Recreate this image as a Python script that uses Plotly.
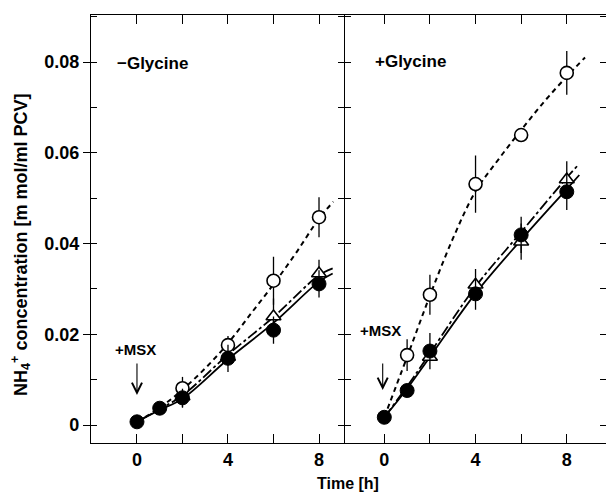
import plotly.graph_objects as go

# ---------------- data ----------------
# -Glycine panel
L_filled_t = [0, 1, 2, 4, 6, 8]
L_filled_y = [0.0007, 0.0037, 0.0060, 0.0147, 0.0209, 0.0311]
L_filled_e = [0, 0, 0.002, 0.003, 0.003, 0.003]
L_open_t = [2, 4, 6, 8]
L_open_y = [0.0081, 0.0176, 0.0318, 0.0458]
L_open_e = [0.0025, 0.002, 0.0053, 0.0044]
L_tri_t = [2, 4, 6, 8]
L_tri_y = [0.0063, 0.0150, 0.0239, 0.0334]
L_tri_e = [0.0025, 0, 0.004, 0.003]
# fitted curves
L_open_ct = [0, 1, 2, 3, 4, 5, 6, 7, 8, 8.63]
L_open_cy = [0.0007, 0.0038, 0.0078, 0.0125, 0.0180, 0.0245, 0.0310, 0.0380, 0.0455, 0.0492]
L_tri_ct = [0, 1, 2, 4, 6, 8, 8.6]
L_tri_cy = [0.0007, 0.0035, 0.0065, 0.0155, 0.0238, 0.0330, 0.0345]
L_fil_ct = [0, 1, 2, 4, 6, 8, 8.6]
L_fil_cy = [0.0007, 0.0033, 0.0058, 0.0145, 0.0225, 0.0316, 0.0334]

# +Glycine panel
R_filled_t = [0, 1, 2, 4, 6, 8]
R_filled_y = [0.0017, 0.0076, 0.0163, 0.0289, 0.0419, 0.0514]
R_filled_e = [0, 0, 0.004, 0.0035, 0.004, 0.004]
R_open_t = [1, 2, 4, 6, 8]
R_open_y = [0.0154, 0.0287, 0.0531, 0.0639, 0.0776]
R_open_e = [0.0035, 0.0044, 0.0063, 0, 0.0048]
R_tri_t = [2, 4, 6, 8]
R_tri_y = [0.0150, 0.0309, 0.0404, 0.0541]
R_tri_e = [0, 0.0035, 0.004, 0.004]
R_open_ct = [0, 1, 2, 3, 4, 5, 6, 7, 8, 8.8]
R_open_cy = [0.0017, 0.0150, 0.0285, 0.0410, 0.0515, 0.0585, 0.0650, 0.0712, 0.0768, 0.0810]
R_tri_ct = [0, 1, 2, 4, 6, 8, 8.5]
R_tri_cy = [0.0017, 0.0085, 0.0158, 0.0305, 0.0425, 0.0545, 0.0573]
R_fil_ct = [0, 1, 2, 4, 6, 8, 8.55]
R_fil_cy = [0.0017, 0.0080, 0.0150, 0.0290, 0.0408, 0.0520, 0.0551]

x_tickvals = [0, 2, 4, 6, 8]
x_ticktext = ["0", " ", "4", " ", "8"]
y_tickvals = [0, 0.02, 0.04, 0.06, 0.08]
y_ticktext = ["0", "0.02", "0.04", "0.06", "0.08"]

# ---------------- figure ----------------
FONT = "Liberation Sans, Arial, Helvetica, sans-serif"
BLACK = "black"
fig = go.Figure()


def add_panel(xa, ya, ct, cy, fct, fcy, tct, tcy,
              tt, ty, te, opt, opy, ope, ft, fy, fe):
    # fitted curves
    fig.add_trace(go.Scatter(x=ct, y=cy, mode="lines", xaxis=xa, yaxis=ya,
                             line=dict(color=BLACK, width=2, dash="5px,4px", shape="spline"),
                             showlegend=False, hoverinfo="skip"))
    fig.add_trace(go.Scatter(x=tct, y=tcy, mode="lines", xaxis=xa, yaxis=ya,
                             line=dict(color=BLACK, width=1.8, dash="11px,3px,3px,3px", shape="spline"),
                             showlegend=False, hoverinfo="skip"))
    fig.add_trace(go.Scatter(x=fct, y=fcy, mode="lines", xaxis=xa, yaxis=ya,
                             line=dict(color=BLACK, width=1.8, shape="spline"),
                             showlegend=False, hoverinfo="skip"))
    # markers
    fig.add_trace(go.Scatter(x=tt, y=ty, mode="markers", xaxis=xa, yaxis=ya,
                             marker=dict(symbol="triangle-up", size=13, color="white",
                                         line=dict(color=BLACK, width=1.6)),
                             error_y=dict(type="data", array=te, color=BLACK, thickness=1.3, width=0),
                             showlegend=False))
    fig.add_trace(go.Scatter(x=opt, y=opy, mode="markers", xaxis=xa, yaxis=ya,
                             marker=dict(symbol="circle", size=13, color="white",
                                         line=dict(color=BLACK, width=1.6)),
                             error_y=dict(type="data", array=ope, color=BLACK, thickness=1.3, width=0),
                             showlegend=False))
    fig.add_trace(go.Scatter(x=ft, y=fy, mode="markers", xaxis=xa, yaxis=ya,
                             marker=dict(symbol="circle", size=14, color=BLACK,
                                         line=dict(color=BLACK, width=1)),
                             error_y=dict(type="data", array=fe, color=BLACK, thickness=1.3, width=0),
                             showlegend=False))


add_panel("x", "y", L_open_ct, L_open_cy, L_fil_ct, L_fil_cy, L_tri_ct, L_tri_cy,
          L_tri_t, L_tri_y, L_tri_e, L_open_t, L_open_y, L_open_e, L_filled_t, L_filled_y, L_filled_e)
add_panel("x2", "y2", R_open_ct, R_open_cy, R_fil_ct, R_fil_cy, R_tri_ct, R_tri_cy,
          R_tri_t, R_tri_y, R_tri_e, R_open_t, R_open_y, R_open_e, R_filled_t, R_filled_y, R_filled_e)

# dummy traces for the tick-only overlay axes
fig.add_trace(go.Scatter(x=[None], y=[None], xaxis="x", yaxis="y3", showlegend=False, hoverinfo="skip"))
fig.add_trace(go.Scatter(x=[None], y=[None], xaxis="x2", yaxis="y4", showlegend=False, hoverinfo="skip"))

W, H = 606, 495
ML, MR, MT, MB = 91, 0, 15, 52
split = (344.5 - ML) / (W - ML - MR)
yr = [-(443 - 425) / 4537.5, (425 - 15) / 4537.5]

tickfont = dict(family=FONT, size=18, color=BLACK, weight="bold")
xcommon = dict(showline=True, linecolor=BLACK, linewidth=1.3, mirror="ticks",
               ticks="inside", ticklen=9, tickwidth=1.3, tickcolor=BLACK,
               tickvals=x_tickvals, ticktext=x_ticktext, tickfont=tickfont,
               ticklabelstandoff=0, showgrid=False, zeroline=False, fixedrange=True)

fig.update_layout(
    width=W, height=H,
    margin=dict(l=ML, r=MR, t=MT, b=MB),
    paper_bgcolor="white", plot_bgcolor="white",
    showlegend=False,
    xaxis=dict(domain=[0, split], range=[-2.02, 9.12], anchor="y", **xcommon),
    xaxis2=dict(domain=[split, 1], range=[-1.745, 9.72], anchor="y2", **xcommon),
    yaxis=dict(range=yr, anchor="x", showline=True, linecolor=BLACK, linewidth=1.3,
               ticks="outside", ticklen=7, tickwidth=1.3, tickcolor=BLACK,
               tickvals=y_tickvals, ticktext=y_ticktext, tickfont=tickfont,
               minor=dict(dtick=0.01, tick0=0, ticks="inside", ticklen=6, tickwidth=1.2, tickcolor=BLACK),
               showgrid=False, zeroline=False, fixedrange=True),
    yaxis3=dict(range=yr, anchor="x", overlaying="y", side="right", showline=False,
                ticks="inside", ticklen=7, tickwidth=1.2, tickcolor=BLACK,
                tick0=0, dtick=0.01, showticklabels=False, showgrid=False, zeroline=False),
    yaxis2=dict(range=yr, anchor="x2", showline=True, linecolor=BLACK, linewidth=1.3,
                ticks="inside", ticklen=6, tickwidth=1.2, tickcolor=BLACK,
                tick0=0, dtick=0.01, showticklabels=False, showgrid=False, zeroline=False,
                fixedrange=True),
    yaxis4=dict(range=yr, anchor="x2", overlaying="y2", side="right", showline=False,
                ticks="inside", ticklen=6, tickwidth=1.2, tickcolor=BLACK,
                tick0=0, dtick=0.01, showticklabels=False, showgrid=False, zeroline=False),
)

lbl = dict(family=FONT, color=BLACK, weight="bold")
annotations = [
    dict(text="−Glycine", x=152.5, y=63, font=dict(size=17, **lbl)),
    dict(text="+Glycine", x=410, y=62, font=dict(size=17, **lbl)),
    dict(text="+MSX", x=135.5, y=349, font=dict(size=15, **lbl)),
    dict(text="+MSX", x=380, y=330, font=dict(size=15, **lbl)),
    dict(text="Time [h]", x=347.5, y=484, font=dict(size=16, **lbl)),
    dict(text="NH<sub>4</sub><sup>+</sup> concentration [m mol/ml PCV]", x=20, y=245,
         textangle=-90, font=dict(size=18, **lbl)),
]
# convert pixel positions to paper coordinates
pw, ph = W - ML - MR, H - MT - MB
for a in annotations:
    a["x"] = (a["x"] - ML) / pw
    a["y"] = 1 - (a["y"] - MT) / ph
    a["xref"] = "paper"
    a["yref"] = "paper"
    a["showarrow"] = False
    a["xanchor"] = "center"
    a["yanchor"] = "middle"

# MSX arrows
annotations.append(dict(x=0, y=(425 - 395) / 4537.5, xref="x", yref="y", ax=0, ay=-33,
                        showarrow=True, arrowhead=5, arrowsize=1.8, arrowwidth=1.1,
                        arrowcolor=BLACK, text=""))
annotations.append(dict(x=-0.07, y=(425 - 390) / 4537.5, xref="x2", yref="y2", ax=0, ay=-28,
                        showarrow=True, arrowhead=5, arrowsize=1.8, arrowwidth=1.1,
                        arrowcolor=BLACK, text=""))
fig.update_layout(annotations=annotations)

fig.write_html("out.html", config={"displayModeBar": False},
               post_script="document.body.style.margin='0';document.body.style.padding='0';")
